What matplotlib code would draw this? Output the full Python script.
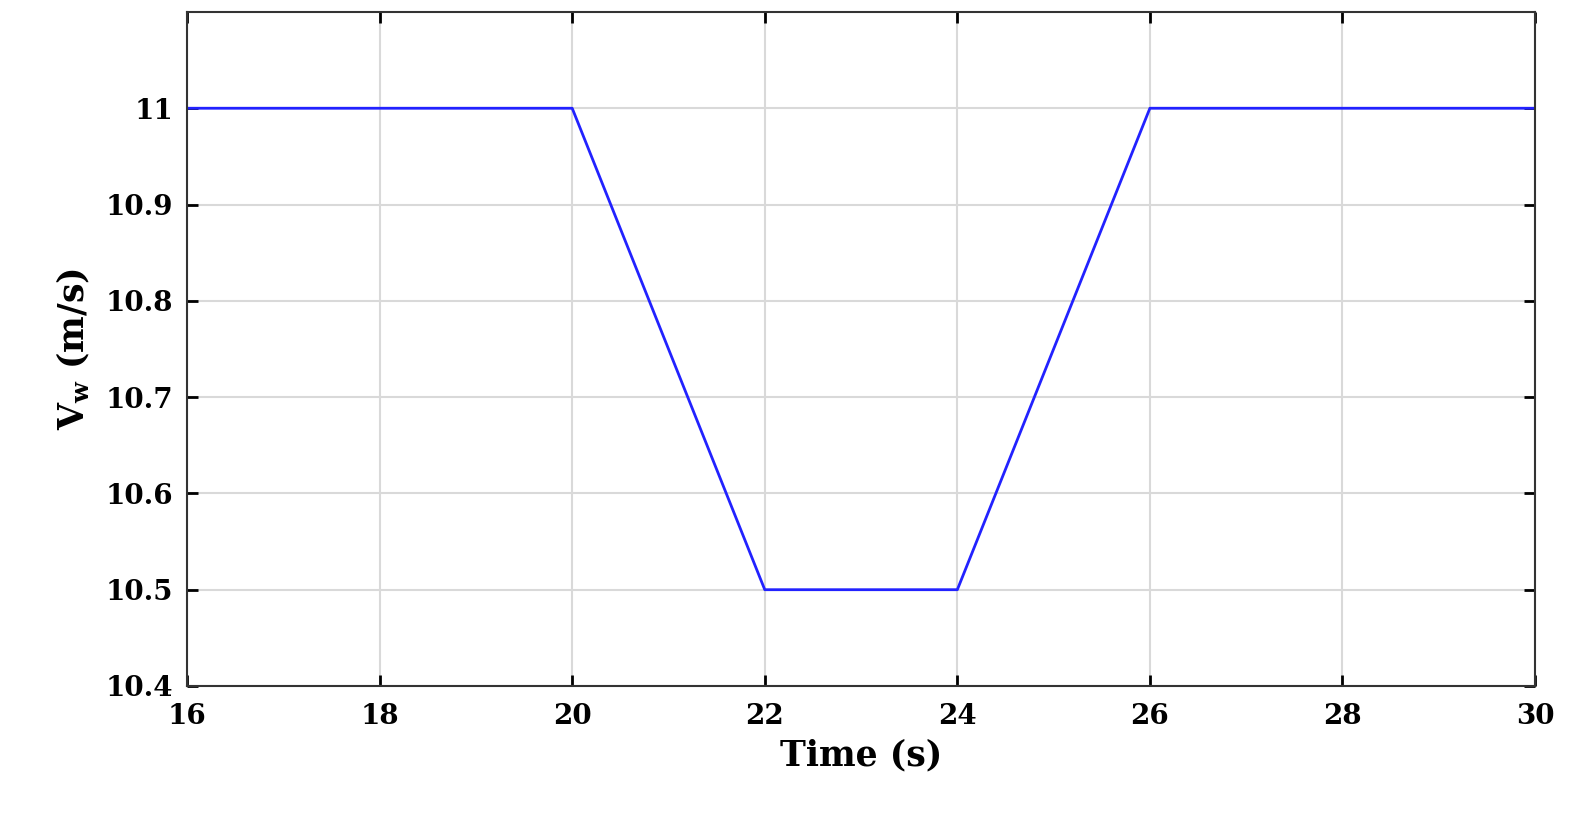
import matplotlib
matplotlib.use("Agg")
import matplotlib.pyplot as plt

# wind speed profile
time_s = [16, 20, 22, 24, 26, 30]
wind_speed = [11, 11, 10.5, 10.5, 11, 11]

plt.rcParams['font.family'] = ['DejaVu Serif']
plt.rcParams['font.weight'] = 'bold'
plt.rcParams['mathtext.fontset'] = 'dejavuserif'
plt.rcParams['xtick.direction'] = 'in'
plt.rcParams['ytick.direction'] = 'in'

fig = plt.figure(figsize=(15.76, 8.25), dpi=100)
ax = fig.add_axes([0.1187, 0.1685, 0.8553, 0.817])

ax.plot(time_s, wind_speed, color='#2222ff', linewidth=2)

ax.set_xlim(16, 30)
ax.set_ylim(10.4, 11.1)
ax.set_xticks([16, 18, 20, 22, 24, 26, 28, 30])
ax.set_yticks([10.4, 10.5, 10.6, 10.7, 10.8, 10.9, 11])
ax.set_yticklabels(['10.4', '10.5', '10.6', '10.7', '10.8', '10.9', '11'])
ax.grid(color='#d9d9d9', linewidth=1.5)
ax.tick_params(labelsize=20, width=2, length=8, top=True, right=True)
ax.tick_params(axis='x', pad=12)
ax.tick_params(axis='y', pad=10)
for s in ax.spines.values():
    s.set_linewidth(1.5)
    s.set_color('#333333')

ax.set_xlabel("Time (s)", fontsize=25, fontweight='bold', labelpad=6)
ax.set_ylabel(r"V$_\mathbf{w}$ (m/s)", fontsize=25, fontweight='bold', labelpad=10)

fig.savefig("out.png", dpi=100)
